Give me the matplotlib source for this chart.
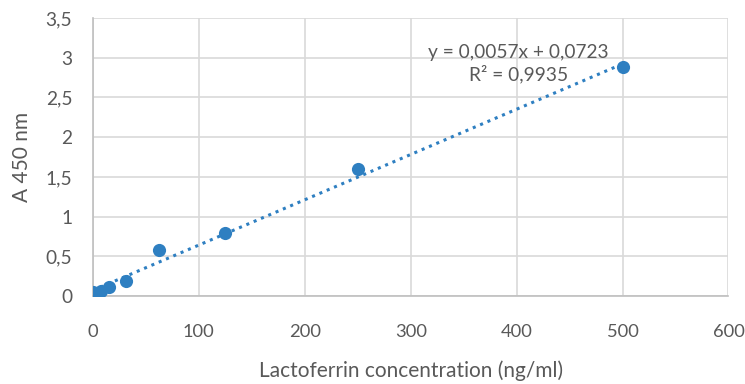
import matplotlib
matplotlib.use("Agg")
import matplotlib.pyplot as plt
import numpy as np

conc = [0, 7.8, 15.6, 31.25, 62.5, 125, 250, 500]
absorb = [0.05, 0.07, 0.11, 0.19, 0.58, 0.80, 1.60, 2.88]
slope = 0.0057
intercept = 0.0723
eq_text = "y = 0,0057x + 0,0723\nR² = 0,9935"
xticks = [0, 100, 200, 300, 400, 500, 600]
yticks = [0, 0.5, 1, 1.5, 2, 2.5, 3, 3.5]
ytick_labels = ["0", "0,5", "1", "1,5", "2", "2,5", "3", "3,5"]

plt.rcParams['font.family'] = ['Lato', 'DejaVu Sans']
txt = '#595959'
fig = plt.figure(figsize=(7.45, 3.84), dpi=100)
ax = fig.add_axes([0.1248, 0.229, 0.853, 0.724])

blue = '#2e7fc1'
xs = np.array([0, 500])
ax.plot(xs, slope * xs + intercept, linestyle=(0, (1, 1.6)), color=blue, lw=2.2, zorder=3)
ax.scatter(conc, absorb, s=90, color=blue, zorder=4, linewidths=0)

ax.set_xlim(0, 600)
ax.set_ylim(0, 3.5)
ax.set_xticks(xticks)
ax.set_xticklabels([str(t) for t in xticks])
ax.set_yticks(yticks)
ax.set_yticklabels(ytick_labels)
ax.grid(True, color='#d9d9d9', lw=1.2)
ax.set_axisbelow(True)
for s in ['top', 'right']:
    ax.spines[s].set_visible(False)
for s in ['left', 'bottom']:
    ax.spines[s].set_color('#bfbfbf')
    ax.spines[s].set_linewidth(1.2)
ax.tick_params(length=0, labelsize=13.8, colors=txt)
ax.tick_params(axis='y', pad=15)
ax.tick_params(axis='x', pad=20, labelsize=13.2)
ax.set_xlabel("Lactoferrin concentration (ng/ml)", fontsize=15, color=txt, labelpad=15)
ax.set_ylabel("A 450 nm", fontsize=15, color=txt, labelpad=10)
ax.text(402, 2.93, eq_text, ha='center', va='center', fontsize=13.8, color=txt,
        linespacing=1.25, multialignment='center')

fig.savefig("out.png", dpi=100)
